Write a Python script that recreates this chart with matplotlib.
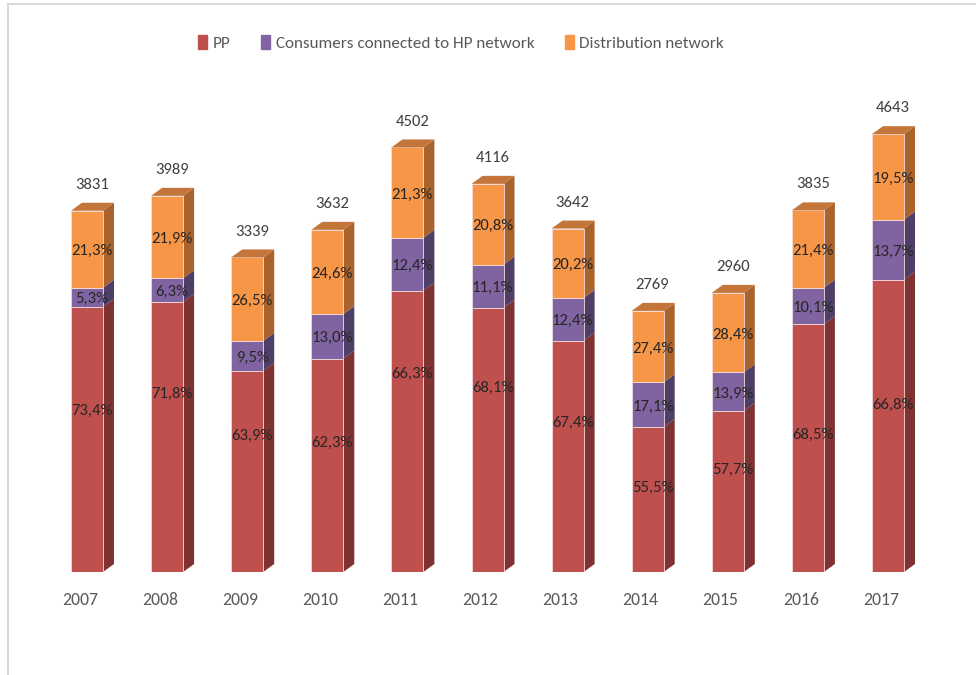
import matplotlib
matplotlib.use("Agg")
import matplotlib.pyplot as plt
from matplotlib.patches import Polygon
from matplotlib.lines import Line2D
from matplotlib import font_manager
import numpy as np

years = ["2007", "2008", "2009", "2010", "2011", "2012", "2013", "2014", "2015", "2016", "2017"]
totals = [3831, 3989, 3339, 3632, 4502, 4116, 3642, 2769, 2960, 3835, 4643]
pp_pct = [73.4, 71.8, 63.9, 62.3, 66.3, 68.1, 67.4, 55.5, 57.7, 68.5, 66.8]
hp_pct = [5.3, 6.3, 9.5, 13.0, 12.4, 11.1, 12.4, 17.1, 13.9, 10.1, 13.7]
dist_pct = [21.3, 21.9, 26.5, 24.6, 21.3, 20.8, 20.2, 27.4, 28.4, 21.4, 19.5]
series_names = ["PP", "Consumers connected to HP network", "Distribution network"]

# layout only: vertical shift (pixels, upward) of the PP data labels, as placed in the original
pp_label_shift_px = [29, 43, 36, 22, 57, 52, 33, 12, 22, 13, 21]

installed = {f.name for f in font_manager.fontManager.ttflist}
fam = [f for f in ["Carlito", "Liberation Sans Narrow", "Open Sans", "DejaVu Sans"] if f in installed]
plt.rcParams["font.family"] = fam

front = ["#C0504D", "#8064A2", "#F79646"]
side = ["#7E3231", "#4F3E68", "#A9632C"]
top_col = "#C4763A"
txt = "#595959"

W, H, DPI = 976, 675, 100
fig = plt.figure(figsize=(W / DPI, H / DPI), dpi=DPI)
fig.patch.set_facecolor("white")

# axes geometry in pixels
base_px = 572
px_per_unit = 0.0943
ymax = 5000
ax_h_px = ymax * px_per_unit
spacing_px = 80.1
x0_px = 87
left_px, right_px = 40, 950
ax = fig.add_axes([left_px / W, (H - base_px) / H, (right_px - left_px) / W, ax_h_px / H])
ax.set_xlim(-(x0_px - left_px) / spacing_px, (right_px - x0_px) / spacing_px)
ax.set_ylim(0, ymax)
ax.axis("off")

n = len(years)
x = np.arange(n)
w = 32 / spacing_px
dx = 11 / spacing_px
dy = 8 / px_per_unit
lab_dx = 5 / spacing_px

pcts = [pp_pct, hp_pct, dist_pct]
totals_a = np.array(totals, dtype=float)
bottoms = np.zeros(n)
for s, pc in enumerate(pcts):
    h = totals_a * np.array(pc) / 100.0
    ax.bar(x, h, w, bottom=bottoms, color=front[s], edgecolor="#F2DCDB", linewidth=0.6,
           label=series_names[s], zorder=3)
    for i in range(n):
        y0, y1 = bottoms[i], bottoms[i] + h[i]
        xr = x[i] + w / 2
        ax.add_patch(Polygon([(xr, y0), (xr + dx, y0 + dy), (xr + dx, y1 + dy), (xr, y1)],
                             closed=True, facecolor=side[s], edgecolor="none", zorder=2))
        ymid = (y0 + y1) / 2
        if s == 0:
            ymid += pp_label_shift_px[i] / px_per_unit
        else:
            ymid -= 2 / px_per_unit
        ax.text(x[i] + lab_dx, ymid, f"{pc[i]:.1f}%".replace(".", ","),
                ha="center", va="center", fontsize=12, color="#262626", zorder=5)
    bottoms = bottoms + h

for i in range(n):
    t = bottoms[i]
    xl, xr = x[i] - w / 2, x[i] + w / 2
    ax.add_patch(Polygon([(xl, t), (xl + dx, t + dy), (xr + dx, t + dy), (xr, t)],
                         closed=True, facecolor=top_col, edgecolor="none", zorder=4))
    ax.text(x[i] + 0.06, t + dy + 190, str(totals[i]), ha="center", va="center",
            fontsize=12, color="#404040")
    ax.text(x[i] - 0.09, -300, years[i], ha="center", va="center", fontsize=12.7, color=txt)

handles = [plt.Rectangle((0, 0), 1, 1, color=c) for c in front]
leg = fig.legend(handles, series_names, loc="center", bbox_to_anchor=(461 / W, 1 - 43 / H),
                 ncol=3, frameon=False, fontsize=12.3, handlelength=0.55, handleheight=0.85,
                 handletextpad=0.3, columnspacing=1.8)
for t in leg.get_texts():
    t.set_color(txt)

# outer frame lines
fig.add_artist(Line2D([8 / W, 8 / W], [0, 1 - 4 / H], color="#D9D9D9", lw=1.5))
fig.add_artist(Line2D([8 / W, 1], [1 - 4 / H, 1 - 4 / H], color="#D9D9D9", lw=1.5))

fig.savefig("out.png", dpi=DPI, facecolor="white")
